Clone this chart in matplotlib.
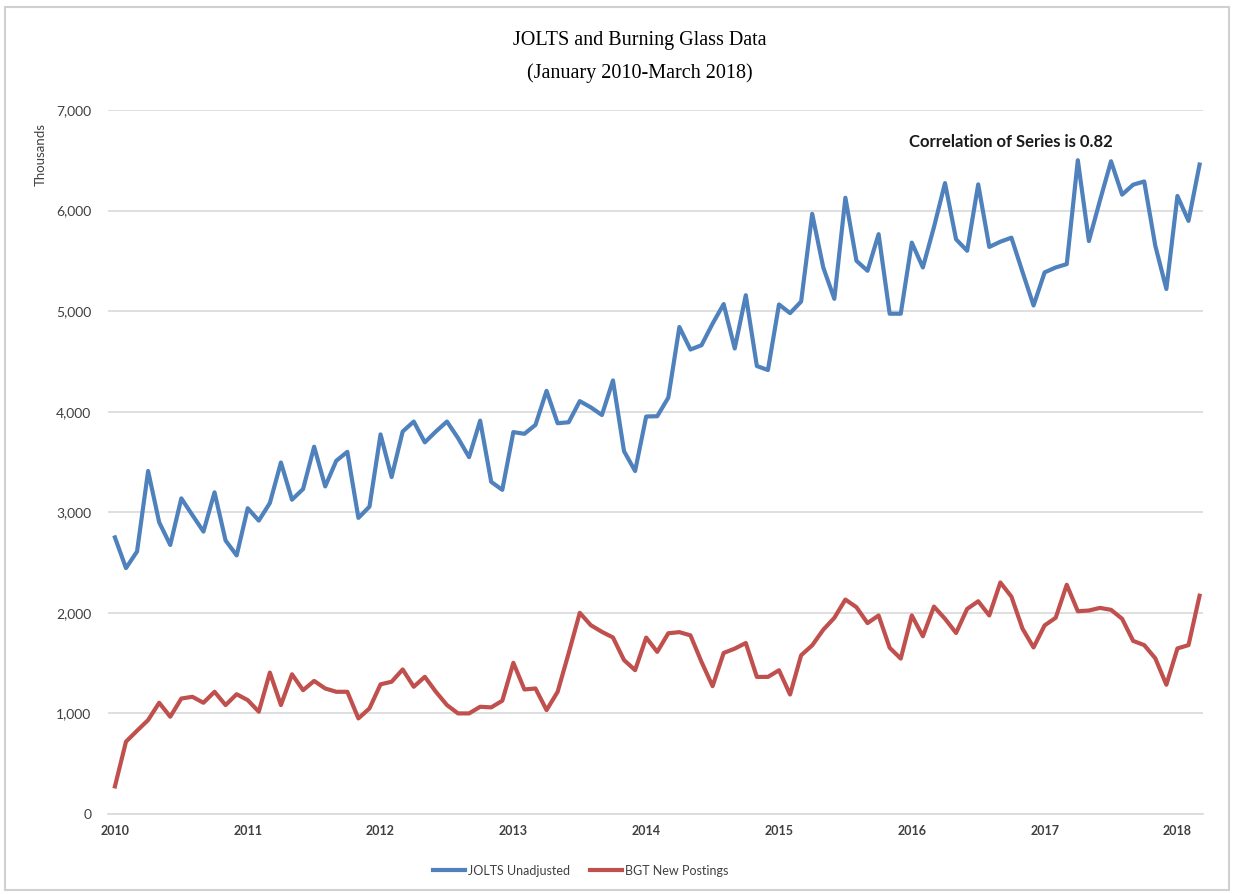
import numpy as np
import matplotlib
matplotlib.use("Agg")
import matplotlib.pyplot as plt
from matplotlib.patches import Rectangle

# monthly values, Jan 2010 - Mar 2018 (thousands)
jolts = [
    2750, 2445, 2610, 3410, 2900, 2675, 3138, 2972, 2808, 3198, 2719, 2571,
    3040, 2917, 3092, 3495, 3125, 3231, 3652, 3257, 3512, 3601, 2944, 3056,
    3774, 3350, 3803, 3902, 3695, 3803, 3902, 3738, 3548, 3911, 3302, 3223,
    3797, 3780, 3869, 4207, 3885, 3895, 4105, 4043, 3967, 4311, 3607, 3410,
    3952, 3955, 4140, 4842, 4618, 4661, 4875, 5070, 4628, 5158, 4454, 4414,
    5066, 4980, 5095, 5967, 5434, 5122, 6127, 5500, 5401, 5765, 4974, 4974,
    5681, 5434, 5835, 6273, 5714, 5600, 6260, 5638, 5690, 5730, 5390, 5056,
    5385, 5434, 5467, 6500, 5697, 6100, 6490, 6158, 6257, 6289, 5650, 5220,
    6145, 5897, 6457,
]
bgt = [
    274, 719, 828, 934, 1106, 967, 1148, 1165, 1106, 1215, 1083, 1191,
    1132, 1017, 1406, 1083, 1389, 1231, 1323, 1248, 1215, 1215, 950, 1050,
    1289, 1315, 1437, 1265, 1364, 1215, 1083, 1000, 1000, 1066, 1060, 1126,
    1503, 1238, 1248, 1033, 1215, 1600, 2000, 1877, 1811, 1755, 1530, 1430,
    1754, 1612, 1797, 1808, 1776, 1512, 1271, 1601, 1644, 1700, 1363, 1363,
    1429, 1188, 1578, 1677, 1832, 1950, 2132, 2056, 1898, 1974, 1653, 1545,
    1974, 1767, 2062, 1941, 1800, 2039, 2115, 1974, 2302, 2161, 1843, 1656,
    1875, 1951, 2279, 2016, 2023, 2049, 2030, 1941, 1721, 1679, 1548, 1285,
    1646, 1679, 2170,
]
years = ["2010", "2011", "2012", "2013", "2014", "2015", "2016", "2017", "2018"]
yticks = [0, 1000, 2000, 3000, 4000, 5000, 6000, 7000]

blue = "#4f81bd"
red = "#c0504d"
sans = ["Lato", "DejaVu Sans"]

fig = plt.figure(figsize=(12.35, 8.94), dpi=100)
fig.patches.append(Rectangle((0.004, 0.004), 0.991, 0.988, transform=fig.transFigure,
                             fill=False, edgecolor="#d0d0d0", linewidth=1.5))

ax = fig.add_axes([0.0874, 0.0895, 0.8866, 0.7875])
months = np.arange(len(jolts))
ax.plot(months, jolts, color=blue, lw=3, label="JOLTS Unadjusted", solid_joinstyle="round")
ax.plot(months, bgt, color=red, lw=3, label="BGT New Postings", solid_joinstyle="round")

ax.set_xlim(-0.63, 98.3)
ax.set_ylim(0, 7000)
ax.set_yticks(yticks)
ax.set_yticklabels([f"{v:,}" for v in yticks], family=sans, fontsize=10, color="#404040")
ax.set_xticks(np.arange(len(years)) * 12)
ax.set_xticklabels(years, family=sans, fontsize=9, fontweight="bold", color="#404040")
ax.tick_params(axis="y", length=0, pad=12)
ax.tick_params(axis="x", length=0, pad=8)
ax.grid(axis="y", color="#d9d9d9", lw=1.2)
ax.set_axisbelow(True)
for s in ["top", "right", "left"]:
    ax.spines[s].set_visible(False)
ax.spines["bottom"].set_color("#d9d9d9")
ax.spines["bottom"].set_linewidth(1.2)

fig.text(0.033, 0.827, "Thousands", rotation=90, family=sans, fontsize=9.5, color="#404040",
         ha="center", va="center")

fig.text(0.518, 0.955, "JOLTS and Burning Glass Data", family="Liberation Serif",
         fontsize=14.5, ha="center", va="center")
fig.text(0.518, 0.918, "(January 2010-March 2018)", family="Liberation Serif",
         fontsize=14.5, ha="center", va="center")

ax.text(0.732, 0.955, "Correlation of Series is 0.82", transform=ax.transAxes,
        family=sans, fontsize=12, fontweight="bold", color="#1a1a1a", va="center")

fig.legend(loc="center", bbox_to_anchor=(0.47, 0.026), ncol=2, frameon=False,
           prop={"family": sans, "size": 9}, handlelength=2.6, handletextpad=0.2,
           columnspacing=1.6, labelcolor="#404040")

fig.savefig("out.png", dpi=100)
